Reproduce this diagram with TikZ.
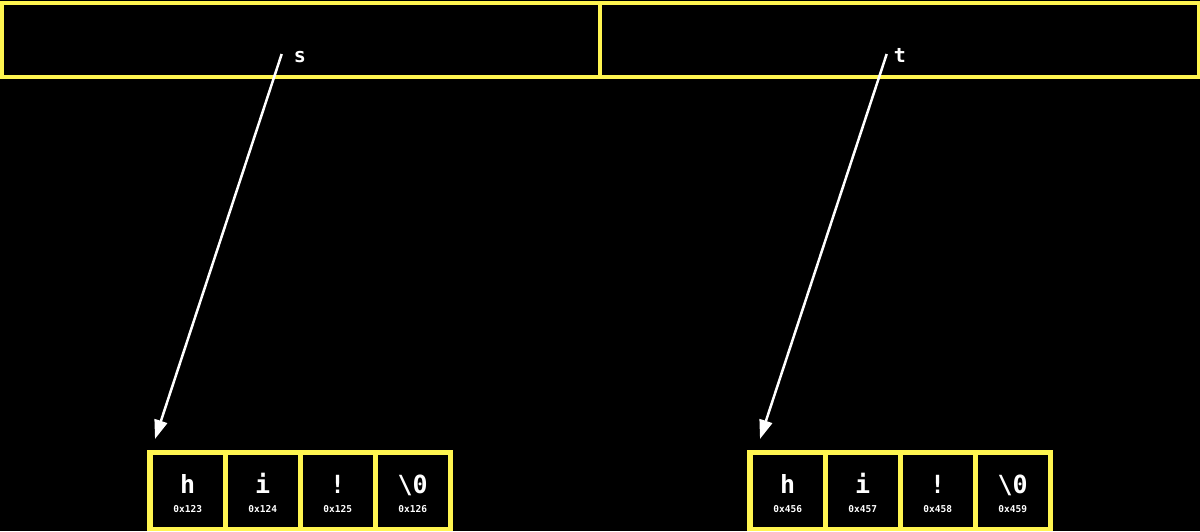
\documentclass[tikz,border=0pt]{standalone}
\usepackage{fontspec}
\setmonofont{DejaVu Sans Mono}
\usetikzlibrary{arrows.meta,positioning}
\definecolor{hiyellow}{RGB}{255,245,80}

\begin{document}
\begin{tikzpicture}[x=1pt,y=-1pt,
  slot/.style={draw=hiyellow,line width=4pt,minimum width=598.5pt,minimum height=74pt,inner sep=0pt},
  strip/.style={fill=hiyellow,minimum width=306pt,minimum height=81pt,inner sep=0pt},
  cell/.style={fill=black,minimum width=70pt,minimum height=72pt,inner sep=0pt},
  char/.style={anchor=base,text=white,inner sep=0pt,font=\ttfamily\bfseries\fontsize{25}{25}\selectfont},
  addr/.style={anchor=base,text=white,inner sep=0pt,font=\ttfamily\bfseries\fontsize{9.5}{10}\selectfont},
  varname/.style={anchor=base,text=white,inner sep=0pt,font=\ttfamily\bfseries\fontsize{20}{20}\selectfont},
  ptr/.style={draw=white,line width=2.5pt,-{Triangle[length=19pt,width=13pt]}}]
\useasboundingbox[fill=black] (0,0) rectangle (1200,531);
% the two variables on the stack
\node[slot] (slot s) at (300.75,39.5) {};
\node[slot] (slot t) at (899.25,39.5) {};
\node[varname] (name s) at (300,62) {s};
\node[varname] (name t) at (900,62) {t};
% the two strings in memory
\foreach \v/\dx/\base/\ax in {s/0/123/0,t/600/456/605}{
  \node[strip] (\v mem) at (300+\dx,490.5) {};
  \foreach \i/\c in {0/h,1/i,2/!,3/{\textbackslash 0}}{
    \pgfmathtruncatemacro\addrval{\base+\i}
    \node[cell] (\v\i) at (187.7+\dx+75*\i,491) {};
    \node[char] (\v\i c) at (187.7+\dx+75*\i,493) {\c};
    \node[addr] (\v\i a) at (187.7+\dx+75*\i,512.5) {0x\addrval};
  }
  \coordinate (\v tail) at (281.7+\ax,54);
  \coordinate (\v head) at (155+\ax,439);
  \draw[ptr] (\v tail) -- (\v head);
}
\end{tikzpicture}
\end{document}
